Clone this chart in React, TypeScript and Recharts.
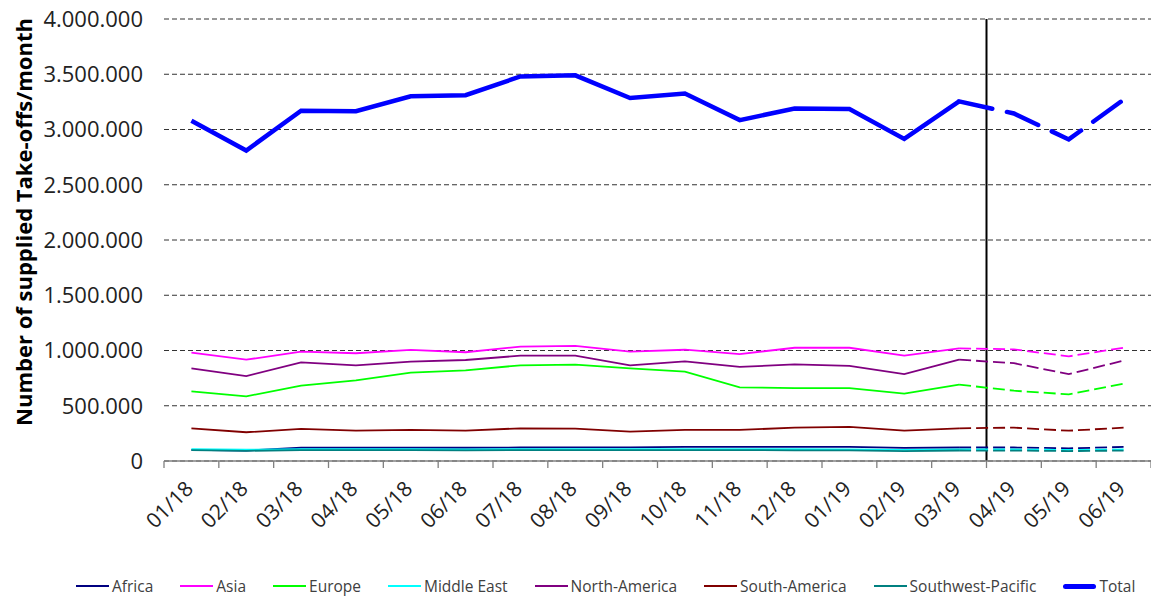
import { LineChart, Line, XAxis, YAxis, CartesianGrid, ReferenceLine } from "recharts"

const months = [
  "01/18", "02/18", "03/18", "04/18", "05/18", "06/18", "07/18", "08/18", "09/18",
  "10/18", "11/18", "12/18", "01/19", "02/19", "03/19", "04/19", "05/19", "06/19",
]
// last actual month (03/19), forecast is dashed from here on
const forecastFrom = 14

const africa = [100000, 95000, 120000, 120000, 120000, 120000, 122000, 124000, 124000, 127000, 128000, 128000, 128000, 118000, 122000, 122000, 115000, 127000]
const asia = [980000, 917000, 989000, 975000, 1005000, 984000, 1035000, 1041000, 989000, 1007000, 968000, 1025000, 1025000, 953000, 1020000, 1010000, 947000, 1025000]
const europe = [631000, 585000, 682000, 730000, 799000, 821000, 866000, 872000, 839000, 808000, 667000, 660000, 660000, 609000, 691000, 636000, 603000, 700000]
const middleEast = [108000, 102000, 108000, 108000, 108000, 106000, 108000, 108000, 108000, 108000, 108000, 107000, 106000, 100000, 104000, 104000, 100000, 104000]
const northAmerica = [839000, 769000, 893000, 866000, 899000, 914000, 953000, 953000, 866000, 902000, 851000, 875000, 860000, 787000, 917000, 885000, 787000, 908000]
const southAmerica = [296000, 260000, 290000, 274000, 281000, 274000, 296000, 293000, 265000, 281000, 281000, 302000, 308000, 274000, 296000, 302000, 274000, 302000]
const southwestPacific = [98000, 92000, 98000, 98000, 98000, 96000, 98000, 98000, 98000, 98000, 98000, 97000, 96000, 90000, 95000, 94000, 90000, 94000]
const total = [3080000, 2810000, 3170000, 3165000, 3300000, 3310000, 3480000, 3490000, 3285000, 3325000, 3085000, 3190000, 3185000, 2915000, 3255000, 3145000, 2910000, 3270000]

const yTicks = [0, 500000, 1000000, 1500000, 2000000, 2500000, 3000000, 3500000, 4000000]

const series = [
  { key: "Africa", values: africa, color: "#000080", width: 1.8 },
  { key: "Asia", values: asia, color: "#ff00ff", width: 1.8 },
  { key: "Europe", values: europe, color: "#00ff00", width: 1.8 },
  { key: "Middle East", values: middleEast, color: "#00ffff", width: 1.8 },
  { key: "North-America", values: northAmerica, color: "#800080", width: 1.8 },
  { key: "South-America", values: southAmerica, color: "#800000", width: 1.8 },
  { key: "Southwest-Pacific", values: southwestPacific, color: "#008080", width: 1.8 },
  { key: "Total", values: total, color: "#0000ff", width: 4.5 },
]

const rows = months.map((m, i) => {
  const row: Record<string, any> = { x: i + 0.5, month: m }
  series.forEach((s) => {
    row[s.key] = i <= forecastFrom ? s.values[i] : null
    row[s.key + " F"] = i >= forecastFrom ? s.values[i] : null
  })
  return row
})

// ticks on band edges (integers) and labels on band centres (halves)
const xTicks = Array.from({ length: months.length * 2 + 1 }, (_, i) => i / 2)

const font = "'Open Sans', 'Noto Sans', sans-serif"

const fmt = (v: number) => String(v).replace(/\B(?=(\d{3})+(?!\d))/g, ".")

function MonthTick({ x, y, payload }: any) {
  const v = payload.value
  if (Number.isInteger(v)) {
    return <line x1={x} x2={x} y1={y - 7} y2={y} stroke="#808080" strokeWidth={1.3} />
  }
  const ax = x + 3
  const ay = y + 22
  return (
    <text
      x={ax}
      y={ay}
      textAnchor="end"
      transform={`rotate(-45 ${ax} ${ay})`}
      fontSize={21}
      fontFamily={font}
      fill="#222"
    >
      {months[Math.floor(v)]}
    </text>
  )
}

export default function App() {
  return (
    <div style={{ position: "absolute", left: 0, top: 0, width: 1151, height: 599, background: "#fff", fontFamily: font }}>
      <LineChart width={1151} height={599} data={rows} margin={{ top: 19, right: 0, left: 0, bottom: 0 }}>
        <CartesianGrid vertical={false} stroke="#333" strokeDasharray="5 3" />
        <XAxis
          dataKey="x"
          type="number"
          domain={[0, months.length]}
          ticks={xTicks}
          interval={0}
          height={138}
          tickLine={false}
          tickSize={7}
          tickMargin={0}
          tick={<MonthTick />}
          stroke="#808080"
          strokeWidth={1.5}
        />
        <YAxis
          type="number"
          domain={[0, 4000000]}
          ticks={yTicks}
          width={164}
          tickLine={false}
          axisLine={false}
          tickSize={6}
          tickMargin={15}
          tickFormatter={fmt}
          tick={{ fontSize: 22, fill: "#222", fontFamily: font }}
        />
        <ReferenceLine x={forecastFrom + 1} stroke="#000" strokeWidth={2} ifOverflow="visible" />
        {series.map((s) => (
          <Line
            key={s.key}
            dataKey={s.key}
            type="linear"
            stroke={s.color}
            strokeWidth={s.width}
            dot={false}
            activeDot={false}
            isAnimationActive={false}
          />
        ))}
        {series.map((s) => (
          <Line
            key={s.key + " F"}
            dataKey={s.key + " F"}
            type="linear"
            stroke={s.color}
            strokeWidth={s.width}
            strokeDasharray={s.key === "Total" ? "34 15" : "12 5"}
            strokeLinecap={s.key === "Total" ? "round" : "butt"}
            dot={false}
            activeDot={false}
            isAnimationActive={false}
          />
        ))}
      </LineChart>
      <div
        style={{
          position: "absolute",
          left: 23,
          top: 222,
          transform: "translate(-50%, -50%) rotate(-90deg)",
          whiteSpace: "nowrap",
          fontSize: 22,
          fontWeight: 700,
          color: "#000",
        }}
      >
        Number of supplied Take-offs/month
      </div>
      <div
        style={{
          position: "absolute",
          left: 76,
          top: 575,
          display: "flex",
          alignItems: "center",
          gap: 27,
          fontSize: 15.5,
          color: "#404040",
          whiteSpace: "nowrap",
        }}
      >
        {series.map((s) => (
          <div key={s.key} style={{ display: "flex", alignItems: "center" }}>
            <span
              style={{
                display: "inline-block",
                width: 33,
                height: s.key === "Total" ? 5 : 2,
                borderRadius: s.key === "Total" ? 3 : 0,
                background: s.color,
                marginRight: 3,
              }}
            />
            <span>{s.key}</span>
          </div>
        ))}
      </div>
    </div>
  )
}
